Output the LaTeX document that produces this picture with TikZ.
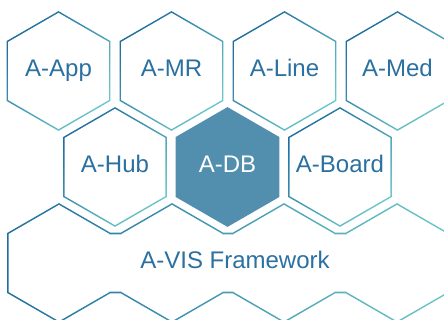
\documentclass[tikz,border=0pt]{standalone}
\usepackage{fontspec}
\setsansfont{Liberation Sans}
\usetikzlibrary{shapes.geometric,positioning}
\definecolor{hexdark}{RGB}{31,110,158}
\definecolor{hexlight}{RGB}{111,200,200}
\definecolor{dbblue}{RGB}{82,142,174}
\definecolor{labelblue}{RGB}{42,112,160}
\begin{document}
\begin{tikzpicture}
            [x=1pt,y=1pt,
             hexlabel/.style ={font=\sffamily\fontsize{24}{24}\selectfont,text height=17pt,text depth=5pt,
                               inner sep=0pt,text=labelblue},
             hexring/.style ={left color=hexdark,right color=hexlight}]
            \useasboundingbox (0,0) rectangle (444,320);
            % framework: four hexagons joined by a band
            \shade[hexring]
              \foreach \cx in {59,172,284,397}{
                (\cx,116.9) -- ++(-51.87,-29.95) -- ++(0,-59.9) -- ++(51.87,-29.95) -- ++(51.87,29.95) -- ++(0,59.9) -- cycle}
              (59,26.7) -- (397,26.7) -- (397,87.3) -- (59,87.3) -- cycle;
            \fill[white]
              \foreach \cx in {59,172,284,397}{
                (\cx,115.08) -- ++(-50.3,-29.04) -- ++(0,-58.08) -- ++(50.3,-29.04) -- ++(50.3,29.04) -- ++(0,58.08) -- cycle}
              (59,28.3) -- (397,28.3) -- (397,85.7) -- (59,85.7) -- cycle;
            \node[hexlabel] (fw) at (235,57) {A-VIS Framework};
            % outlined hexagons of the two upper rows
            \foreach \cx/\cy/\name/\txt in {58.5/249/app/A-App,171.5/249/mr/A-MR,284.5/249/line/A-Line,
                                            397.5/249/med/A-Med,115/153/hub/A-Hub,340/153/board/A-Board}{
              \shade[hexring,shading angle=45,shift={(\cx,\cy)}]
                (90:59.9) -- (150:59.9) -- (210:59.9) -- (270:59.9) -- (330:59.9) -- (30:59.9) -- cycle;
              \fill[white,shift={(\cx,\cy)}]
                (90:58.1) -- (150:58.1) -- (210:58.1) -- (270:58.1) -- (330:58.1) -- (30:58.1) -- cycle;
              \node[hexlabel] (\name) at (\cx,\cy) {\txt};
            }
            % the highlighted one
            \fill[dbblue,shift={(227.5,153)}]
              (90:59.9) -- (150:59.9) -- (210:59.9) -- (270:59.9) -- (330:59.9) -- (30:59.9) -- cycle;
            \node[hexlabel,text=white] (db) at (227.5,153) {A-DB};
        \end{tikzpicture}
\end{document}
